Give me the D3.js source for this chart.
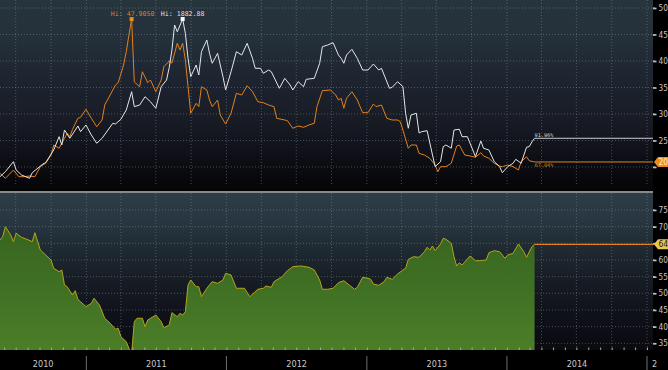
<!DOCTYPE html>
<html><head><meta charset="utf-8">
<script src="https://cdn.jsdelivr.net/npm/d3@7"></script>
<style>
html,body{margin:0;padding:0;background:#000;overflow:hidden;}
svg{display:block;}
.ax{font-family:"Liberation Sans Narrow","DejaVu Sans Condensed","Arial Narrow",sans-serif;font-stretch:condensed;}
.mono{font-family:"DejaVu Sans Mono","Liberation Mono",monospace;}
</style></head><body>
<svg id="c" width="668" height="370"></svg>
<script>
// ---------- data ----------
const START = "2010-05-21";            // week 0 (weekly closes, Fridays)
const yearLabels = ["2010","2011","2012","2013","2014","2015"];
const silverTicks = [20,25,30,35,40,45,50];
const ratioTicks = [35,40,45,50,55,60,65,70,75];
// [week offset, value]
const silver = [[0,18.81],[2,17.87],[5,19.43],[7,18.17],[9,18.17],[11,18.30],[13,18.17],[15,20.06],[17,20.70],[19,22.26],[20,24.15],[22,23.53],[24,25.42],[25,26.36],[26,25.72],[27,27.11],[29,29.19],[30,29.38],[32,30.89],[34,29.19],[36,27.60],[38,28.87],[39,31.70],[41,33.58],[43,35.47],[44,35.91],[46,39.25],[47,41.75],[48,44.91],[49,47.905],[50,36.04],[52,35.15],[53,37.98],[55,35.91],[56,36.42],[58,34.21],[60,36.42],[61,38.92],[63,40.0],[64,39.6],[66,43.34],[67,42.08],[68,43.34],[69,40.19],[70,35.15],[71,30.13],[73,32.02],[74,31.38],[75,35.15],[77,34.53],[78,32.64],[79,31.38],[81,32.64],[82,29.81],[84,28.11],[86,30.13],[88,33.91],[90,33.58],[92,35.34],[94,34.21],[96,32.32],[98,32.13],[100,31.70],[102,31.38],[103,29.19],[106,28.87],[107,28.74],[109,27.30],[111,27.74],[113,27.49],[115,27.92],[117,28.25],[118,31.38],[120,34.40],[123,34.53],[125,33.58],[126,32.64],[127,32.96],[128,31.08],[129,32.96],[131,34.21],[133,32.64],[135,30.25],[137,30.25],[139,31.89],[140,31.38],[142,31.70],[144,29.19],[146,28.87],[148,28.87],[149,28.55],[150,26.98],[152,23.53],[153,24.15],[155,24.15],[156,22.58],[158,22.26],[160,21.64],[162,20.38],[163,19.11],[164,20.06],[166,20.06],[168,20.70],[170,23.96],[171,24.15],[173,22.26],[175,22.08],[177,21.83],[179,22.70],[180,22.08],[182,21.64],[184,20.70],[186,20.19],[187,20.06],[189,20.38],[191,20.06],[193,19.43],[194,21.00],[196,21.94],[197,21.19],[199,20.95]];
const gold = [[0,1230.0],[2,1250.7],[5,1292.1],[6,1257.7],[8,1237.0],[11,1223.3],[12,1246.5],[16,1282.6],[17,1287.9],[20,1340.5],[22,1395.6],[23,1361.2],[24,1423.3],[26,1389.0],[29,1439.9],[30,1416.3],[32,1444.0],[34,1402.6],[36,1368.3],[38,1389.0],[42,1451.1],[43,1448.2],[45,1467.6],[47,1506.1],[49,1581.9],[50,1519.8],[52,1526.8],[54,1561.2],[56,1540.5],[58,1513.2],[60,1602.6],[62,1630.3],[63,1682.1],[64,1754.6],[65,1858.1],[66,1830.3],[68,1882.88],[69,1823.7],[70,1720.2],[71,1644.0],[73,1692.4],[74,1651.0],[75,1747.5],[77,1796.0],[78,1740.9],[79,1699.5],[81,1740.9],[83,1644.0],[84,1588.9],[86,1664.7],[88,1747.5],[90,1733.8],[92,1782.3],[94,1720.2],[95,1678.8],[97,1678.8],[98,1658.1],[100,1671.7],[101,1664.7],[104,1596.0],[106,1637.4],[108,1609.6],[109,1588.9],[111,1623.3],[113,1602.6],[114,1633.2],[117,1637.4],[119,1699.5],[120,1768.2],[122,1775.3],[124,1784.8],[126,1733.8],[127,1720.2],[128,1699.5],[129,1733.8],[131,1757.5],[133,1720.2],[135,1671.7],[137,1671.7],[139,1696.6],[141,1671.7],[142,1678.8],[145,1596.0],[146,1600.1],[148,1623.3],[150,1602.6],[151,1492.5],[152,1430.4],[153,1485.4],[155,1492.5],[156,1410.9],[157,1416.3],[159,1420.4],[161,1319.8],[162,1271.4],[164,1292.1],[165,1354.2],[166,1361.2],[168,1347.6],[169,1423.3],[171,1426.2],[172,1395.6],[174,1395.6],[176,1340.5],[177,1312.8],[179,1377.8],[180,1347.6],[182,1340.5],[184,1292.1],[186,1271.4],[187,1246.5],[189,1271.4],[191,1285.5],[192,1302.0],[194,1285.5],[196,1351.7],[197,1354.2],[198,1373.6],[199,1389.0]];
const ratio = [[0,66.0],[1,66.99],[2,70.0],[4,67.5],[5,65.49],[6,68.01],[8,66.81],[10,66.21],[12,65.49],[13,68.19],[15,63.0],[17,61.5],[19,60.0],[20,57.51],[22,56.49],[23,57.0],[24,52.5],[25,51.99],[27,49.5],[28,50.79],[29,48.21],[30,47.49],[32,45.99],[34,47.01],[35,48.51],[37,46.5],[39,42.51],[41,41.01],[43,39.21],[44,39.51],[45,36.99],[47,35.49],[48,33.51],[49,32.0],[50,41.49],[51,42.51],[53,42.51],[54,39.99],[55,42.0],[57,42.99],[58,43.5],[60,41.49],[61,39.69],[63,40.5],[64,44.19],[66,42.99],[67,44.01],[68,43.5],[69,44.49],[70,52.5],[71,54.0],[73,51.99],[74,51.99],[75,48.99],[77,51.51],[79,53.49],[81,53.01],[83,54.0],[84,56.01],[86,55.5],[88,51.51],[91,51.51],[93,48.99],[96,51.21],[98,51.51],[99,52.2],[101,51.81],[102,53.49],[105,54.99],[107,56.79],[109,57.99],[112,58.2],[115,57.81],[117,57.0],[119,54.0],[120,51.21],[122,51.21],[124,51.51],[126,53.19],[128,53.79],[130,52.5],[132,51.21],[133,51.81],[135,54.81],[137,54.51],[138,54.21],[139,52.8],[141,52.41],[143,53.49],[144,54.81],[146,54.21],[148,55.8],[150,57.0],[151,57.5],[152,60.2],[154,60.99],[156,60.81],[158,62.49],[159,63.81],[160,63.0],[161,64.2],[162,62.79],[164,64.8],[165,66.51],[166,66.21],[168,65.01],[169,60.99],[170,58.2],[171,59.19],[172,58.5],[175,61.2],[177,59.79],[179,59.79],[181,60.0],[182,62.19],[184,62.79],[186,62.49],[188,60.51],[189,61.5],[191,62.01],[193,64.8],[195,62.49],[196,60.81],[198,63.99],[199,64.71]];
const silverHiLabel = "Hi: 47.9050";
const goldHiLabel = "Hi: 1882.88";
const goldPctLabel = "91.96%";
const silverPctLabel = "67.04%";

// ---------- layout ----------
const svg = d3.select("#c");
const W = 668, H = 370;
const plotR = 653;
const top0 = 0, top1 = 190, bot0 = 193, bot1 = 350;
const parse = d3.timeParse("%Y-%m-%d");
const t0 = parse(START);
const dateOf = w => d3.timeDay.offset(t0, 7 * w);
const x = d3.scaleTime().domain([t0, parse("2015-01-01")]).range([0, 647]);
const yTop = d3.scaleLinear().domain([20, 50]).range([167, 8]);
const yGold = d3.scaleLinear().domain([1200, 1900]).range([183.9, 14.9]);
const yBot = d3.scaleLinear().domain([35, 75]).range([343.3, 210]);

const ORANGE = "#e3801c", WHITE = "#e6e6e6";
const defs = svg.append("defs");
function grad(id, y1, y2, stops) {
  const g = defs.append("linearGradient").attr("id", id).attr("gradientUnits", "userSpaceOnUse")
    .attr("x1", 0).attr("x2", 0).attr("y1", y1).attr("y2", y2);
  stops.forEach(s => g.append("stop").attr("offset", s[0]).attr("stop-color", s[1]));
}
grad("gTop", top0, top1, [[0,"#27353d"],[0.2,"#24303a"],[0.36,"#1f2733"],[0.5,"#1b212c"],[0.62,"#181c25"],[0.74,"#13151e"],[0.86,"#0c0d13"],[1,"#050507"]]);
grad("gBot", bot0, bot1, [[0,"#2d3e48"],[0.22,"#26343d"],[0.42,"#1c252d"],[0.58,"#161b23"],[0.76,"#10121a"],[1,"#0a0a10"]]);
grad("gGreen", 215, bot1, [[0,"#37631f"],[0.5,"#3f6f23"],[1,"#4c7e28"]]);
defs.append("clipPath").attr("id","cTop").append("rect").attr("x",0).attr("y",top0).attr("width",plotR).attr("height",top1-top0);
defs.append("clipPath").attr("id","cBot").append("rect").attr("x",0).attr("y",bot0).attr("width",plotR).attr("height",bot1-bot0);
defs.append("clipPath").attr("id","cYr").append("rect").attr("x",0).attr("y",350).attr("width",657).attr("height",20);

svg.append("rect").attr("width",W).attr("height",H).attr("fill","#000");
svg.append("rect").attr("x",0).attr("y",top0).attr("width",plotR).attr("height",top1-top0).attr("fill","url(#gTop)");
svg.append("rect").attr("x",0).attr("y",bot0).attr("width",plotR).attr("height",bot1-bot0).attr("fill","url(#gBot)");
svg.append("rect").attr("x",0).attr("y",191).attr("width",plotR).attr("height",2).attr("fill","#8a8a8a");

// grid
const quarters = d3.timeMonth.every(3).range(d3.timeMonth.offset(t0, 1), parse("2015-02-01"));
const grid = svg.append("g").attr("stroke","#8995a0").attr("stroke-opacity",0.45).attr("stroke-dasharray","1,2");
quarters.forEach(q => {
  grid.append("line").attr("x1",x(q)).attr("x2",x(q)).attr("y1",top0).attr("y2",top1-4);
  grid.append("line").attr("x1",x(q)).attr("x2",x(q)).attr("y1",bot0).attr("y2",bot1);
});
silverTicks.forEach(v => grid.append("line").attr("x1",0).attr("x2",plotR).attr("y1",yTop(v)).attr("y2",yTop(v)));
ratioTicks.forEach(v => grid.append("line").attr("x1",0).attr("x2",plotR).attr("y1",yBot(v)).attr("y2",yBot(v)));

// bottom panel: ratio area
const gB = svg.append("g").attr("clip-path","url(#cBot)");
const area = d3.area().x(d => x(dateOf(d[0]))).y0(bot1).y1(d => yBot(d[1]));
const lineB = d3.line().x(d => x(dateOf(d[0]))).y(d => yBot(d[1]));
gB.append("path").datum(ratio).attr("d", area).attr("fill","url(#gGreen)");
gB.append("path").datum(ratio).attr("d", lineB).attr("fill","none").attr("stroke","#b4a51c").attr("stroke-width",1);
const rl = ratio[ratio.length-1];
gB.append("line").attr("x1",x(dateOf(rl[0]))).attr("x2",plotR).attr("y1",yBot(rl[1])).attr("y2",yBot(rl[1])).attr("stroke",ORANGE).attr("stroke-width",1.2);

// top panel lines
const gT = svg.append("g").attr("clip-path","url(#cTop)");
const lineS = d3.line().x(d => x(dateOf(d[0]))).y(d => yTop(d[1]));
const lineG = d3.line().x(d => x(dateOf(d[0]))).y(d => yGold(d[1]));
const sl = silver[silver.length-1], gl = gold[gold.length-1];
gT.append("line").attr("x1",x(dateOf(sl[0]))).attr("x2",plotR).attr("y1",yTop(sl[1])).attr("y2",yTop(sl[1])).attr("stroke",ORANGE).attr("stroke-width",1);
gT.append("line").attr("x1",x(dateOf(gl[0]))).attr("x2",plotR).attr("y1",yGold(gl[1])).attr("y2",yGold(gl[1])).attr("stroke","#cfcfcf").attr("stroke-width",1);
gT.append("path").datum(silver).attr("d", lineS).attr("fill","none").attr("stroke",ORANGE).attr("stroke-width",1);
gT.append("path").datum(gold).attr("d", lineG).attr("fill","none").attr("stroke",WHITE).attr("stroke-width",1);

// hi markers
const sHi = silver.reduce((a,b) => b[1] > a[1] ? b : a);
const gHi = gold.reduce((a,b) => b[1] > a[1] ? b : a);
svg.append("rect").attr("x",x(dateOf(sHi[0]))-2).attr("y",yTop(sHi[1])-2).attr("width",4).attr("height",4).attr("fill","#f08c1c");
svg.append("rect").attr("x",x(dateOf(gHi[0]))-2).attr("y",yGold(gHi[1])-2).attr("width",4).attr("height",4).attr("fill","#ffffff");
svg.append("text").attr("class","mono").attr("x",x(dateOf(sHi[0]))+1).attr("y",yTop(sHi[1])-3).attr("text-anchor","middle")
  .attr("font-size",6.6).attr("fill","#d8821e").text(silverHiLabel);
svg.append("text").attr("class","mono").attr("x",x(dateOf(gHi[0]))).attr("y",yGold(gHi[1])-3).attr("text-anchor","middle")
  .attr("font-size",6.6).attr("fill","#e0e0e0").text(goldHiLabel);
// end labels
svg.append("text").attr("class","mono").attr("x",x(dateOf(gl[0]))).attr("y",yGold(gl[1])-1.5)
  .attr("font-size",5.2).attr("fill","#d8d8d8").text(goldPctLabel);
svg.append("text").attr("class","mono").attr("x",x(dateOf(sl[0]))).attr("y",yTop(sl[1])+5.5)
  .attr("font-size",5.2).attr("fill","#d8821e").text(silverPctLabel);

// right axes (tick labels hidden under the last-value badge are dropped, as in the reference)
function rightAxis(scale, ticks, minorStep, badgeY) {
  const g = svg.append("g").attr("class","ax").attr("transform",`translate(${plotR},0)`)
    .call(d3.axisRight(scale).tickValues(ticks).tickSize(3.5).tickPadding(2).tickFormat(d3.format("d")));
  g.select(".domain").remove();
  g.selectAll(".tick line").attr("stroke","#c8c8c8").attr("stroke-width",1.6);
  g.selectAll(".tick text").attr("fill","#c4c4c4").attr("font-size",8.2).attr("font-family",null);
  g.selectAll(".tick").filter(d => Math.abs(scale(d) - badgeY) < 5.5).select("text").remove();
  const minors = d3.range(ticks[0] - minorStep, ticks[ticks.length-1] + minorStep, minorStep*2).map(v => v + minorStep);
  minors.forEach(v => g.append("line").attr("x1",0).attr("x2",2).attr("y1",scale(v)).attr("y2",scale(v)).attr("stroke","#b0b0b0"));
  return g;
}
const sl0 = silver[silver.length-1], rl0 = ratio[ratio.length-1];
rightAxis(yTop, silverTicks, 2.5, yTop(sl0[1]));
rightAxis(yBot, ratioTicks, 2.5, yBot(rl0[1]));

// badges
function badge(yv, fill, txtColor, label) {
  const g = svg.append("g");
  g.append("path").attr("d",`M${plotR+1},${yv} L${plotR+5},${yv-5} L${W},${yv-5} L${W},${yv+5} L${plotR+5},${yv+5} Z`).attr("fill",fill);
  g.append("text").attr("class","ax").attr("x",plotR+5.5).attr("y",yv+3).attr("font-size",8.4).attr("fill",txtColor).text(label);
}
badge(yTop(sl[1]), "#ee8c1e", "#fff4cc", sl[1].toFixed(2));
badge(yBot(rl[1]), "#e6c84c", "#1c1c1c", rl[1].toFixed(2));

// bottom time axis
const gx = svg.append("g").attr("transform",`translate(0,${bot1})`)
  .call(d3.axisBottom(x).ticks(d3.timeMonth.every(1)).tickSize(-2.5).tickFormat(""));
gx.select(".domain").remove();
gx.selectAll(".tick line").attr("stroke","#a8a8a8");
gx.selectAll(".tick").filter(d => x(d) < 0 || x(d) > plotR).remove();

const yrG = svg.append("g").attr("class","ax").attr("clip-path","url(#cYr)");
yearLabels.forEach(yl => {
  const a = parse(yl + "-01-01"), b = parse((+yl + 1) + "-01-01");
  const xa = Math.max(0, x(a)), xb = x(b);
  if (x(a) > 0) svg.append("line").attr("x1",x(a)).attr("x2",x(a)).attr("y1",356).attr("y2",370).attr("stroke","#6e6e6e");
  const cx = xb <= 648 ? (xa + xb) / 2 : xa + 5;
  yrG.append("text").attr("x",cx).attr("y",367).attr("text-anchor", xb <= 648 ? "middle" : "start")
    .attr("font-size",9).attr("fill","#c8c8c8").text(yl);
});
</script>
</body></html>
